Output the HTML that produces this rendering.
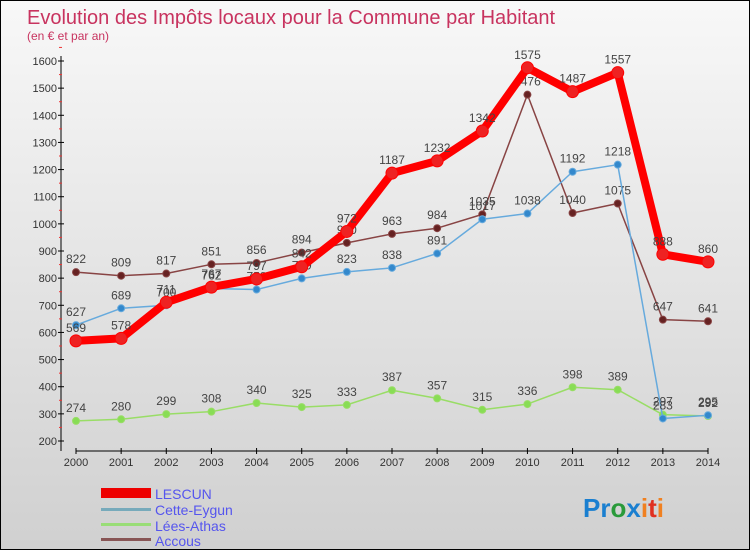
<!DOCTYPE html>
<html><head><meta charset="utf-8"><style>
body{margin:0}
#c{width:748px;height:548px;border:1px solid #000;background:linear-gradient(#f8f8f8,#d0d0d0);position:relative;font-family:"Liberation Sans",sans-serif;overflow:hidden}
</style></head><body>
<div id="c">
<svg id="s" width="748" height="548" style="position:absolute;left:0;top:0">
<text x="26" y="23" font-size="20" fill="#c8335f">Evolution des Impôts locaux pour la Commune par Habitant</text>
<text x="26" y="39" font-size="12" fill="#c8335f">(en € et par an)</text>
<g id="g"></g>
<g>
<rect x="100" y="487" width="50" height="10" fill="#e00"/><text x="154" y="498" font-size="14" fill="#55e">LESCUN</text>
<rect x="100" y="507" width="50" height="3" fill="#7ab"/><text x="154" y="514" font-size="14" fill="#55e">Cette-Eygun</text>
<rect x="100" y="522" width="50" height="3" fill="#9d7"/><text x="154" y="530" font-size="14" fill="#55e">Lées-Athas</text>
<rect x="100" y="537" width="50" height="3" fill="#855"/><text x="154" y="545" font-size="14" fill="#55e">Accous</text>
</g>
<text x="582" y="516" font-size="26" font-weight="bold"><tspan fill="#1a7fd0">Pr</tspan><tspan fill="#2a9a3a">o</tspan><tspan fill="#1a7fd0">x</tspan><tspan fill="#f08020">i</tspan><tspan fill="#e03020">t</tspan><tspan fill="#f08020">i</tspan></text>
</svg>
</div>
<script>
const years=[2000,2001,2002,2003,2004,2005,2006,2007,2008,2009,2010,2011,2012,2013,2014];
const yTicks=[200,300,400,500,600,700,800,900,1000,1100,1200,1300,1400,1500,1600];
const lescun=[569,578,711,767,797,842,972,1187,1232,1342,1575,1487,1557,888,860];
const cette=[627,689,700,762,758,799,823,838,891,1017,1038,1192,1218,283,295];
const lees=[274,280,299,308,340,325,333,387,357,315,336,398,389,297,292];
const accous=[822,809,817,851,856,894,930,963,984,1035,1476,1040,1075,647,641];
const X=y=>75+(y-2000)*(707-75)/14;
const Y=v=>440-(v-200)*(380/1400);
const g=document.getElementById('g');const NS='http://www.w3.org/2000/svg';
function el(t,a,p){const e=document.createElementNS(NS,t);for(const k in a)e.setAttribute(k,a[k]);(p||g).appendChild(e);return e;}
let ax=el('line',{x1:60,y1:55,x2:60,y2:450,stroke:'#000'});


let bx=el('line',{x1:75,y1:450,x2:707,y2:450,stroke:'#000'});


yTicks.forEach(v=>{el('line',{x1:57,x2:63,y1:Y(v),y2:Y(v),stroke:'#000'});el('line',{x1:58,x2:61,y1:Y(v+50),y2:Y(v+50),stroke:'#e33'});
const t=el('text',{x:56,y:Y(v)+4,'font-size':11,'text-anchor':'end',fill:'#333'});t.textContent=v;

});
years.forEach(y=>{el('line',{x1:X(y),x2:X(y),y1:447,y2:453,stroke:'#000'});const t=el('text',{x:X(y),y:465,'font-size':11,'text-anchor':'middle',fill:'#333'});t.textContent=y;

});
function series(d,col,w,r,name,fc){
const p=el('polyline',{points:d.map((v,i)=>X(years[i])+','+Y(v)).join(' '),fill:'none',stroke:col,'stroke-width':w,'stroke-linejoin':'round'});


d.forEach((v,i)=>{const c=el('circle',{cx:X(years[i]),cy:Y(v),r:r,fill:fc,stroke:col});


const t=el('text',{x:X(years[i]),y:Y(v)-9,'font-size':12,'text-anchor':'middle',fill:'#444'});t.textContent=v;

});}
series(lees,'#9d6',1.5,3.5,'lees-athas','#8d5');
series(accous,'#844',1.5,3.5,'accous','#622');
series(cette,'#6ad',1.5,3.5,'cette-eygun','#38c');
series(lescun,'#f00',8,6,'lescun','#e22');
</script>
</body></html>
